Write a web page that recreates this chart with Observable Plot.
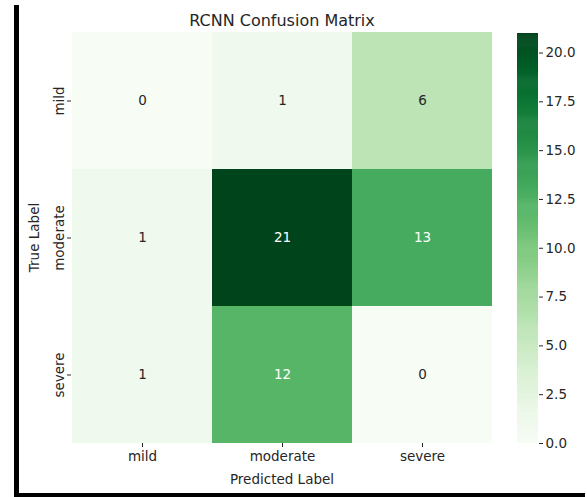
<!DOCTYPE html>
<html><head><meta charset="utf-8">
<script src="https://cdn.jsdelivr.net/npm/d3@7"></script>
<script src="https://cdn.jsdelivr.net/npm/@observablehq/plot@0.6"></script>
<style>
body{margin:0;background:#fff;}
#wrap{position:relative;width:587px;height:497px;overflow:hidden;font-family:"DejaVu Sans";background:#fff;}
#main,#cbar{position:absolute;top:0;}
#main{left:0} #cbar{left:517px}
.bl{position:absolute;left:14px;top:5px;width:5px;height:492px;background:#000}
.bb{position:absolute;left:14px;top:493px;width:571px;height:4px;background:#000}
</style></head><body>
<div id="wrap"><div id="main"></div><div id="cbar"></div><div class="bl"></div><div class="bb"></div></div>
<script>
const predicted = ["mild","moderate","severe"];
const trueLabels = ["mild","moderate","severe"];
const mildRow = [0,1,6];
const moderateRow = [1,21,13];
const severeRow = [1,12,0];
const colorbarTicks = [0,2.5,5,7.5,10,12.5,15,17.5,20];
const title = "RCNN Confusion Matrix";
const vmax = 21;

const rows = [mildRow, moderateRow, severeRow];
const cells = trueLabels.flatMap((t,i)=>predicted.map((p,j)=>({t,p,v:rows[i][j]})));
const colorOpts = {type:"linear", scheme:"greens", domain:[0,vmax]};
const txt = "#262626";

const main = Plot.plot({
  width:587,height:497,marginLeft:71,marginRight:95,marginTop:31,marginBottom:54,
  style:{fontFamily:"DejaVu Sans",fontSize:"13.5px",color:txt,background:"transparent",overflow:"visible"},
  x:{domain:predicted,padding:0},
  y:{domain:trueLabels,padding:0},
  color:colorOpts,
  marks:[
    Plot.cell(cells,{x:"p",y:"t",fill:"v",inset:0}),
    Plot.text(cells,{filter:d=>d.v<=10,x:"p",y:"t",text:d=>String(d.v),fill:txt,fontSize:13.5}),
    Plot.text(cells,{filter:d=>d.v>10,x:"p",y:"t",text:d=>String(d.v),fill:"white",fontSize:13.5}),
    Plot.axisX({tickSize:4,tickPadding:4,label:"Predicted Label",labelAnchor:"center",labelOffset:40}),
    Plot.axisY({tickSize:4,tickRotate:-90,tickPadding:4,label:"True Label",labelAnchor:"center",labelOffset:42}),
    Plot.text([title],{frameAnchor:"top",dy:-6,lineAnchor:"bottom",fontSize:16,text:d=>d,fill:txt})
  ]
});
document.getElementById("main").appendChild(main);

const step = 0.05;
const grad = d3.range(0, vmax, step);
const cbar = Plot.plot({
  width:70,height:497,marginLeft:0,marginRight:49,marginTop:33,marginBottom:54,
  style:{fontFamily:"DejaVu Sans",fontSize:"13.5px",color:txt,background:"transparent",overflow:"visible"},
  x:{domain:[0,1],axis:null},
  y:{domain:[0,vmax]},
  color:colorOpts,
  marks:[
    Plot.rect(grad,{x1:0,x2:1,y1:d=>d,y2:d=>Math.min(vmax,d+step*1.6),fill:d=>d+step/2,inset:0}),
    Plot.axisY(colorbarTicks,{anchor:"right",tickSize:4,tickPadding:3,tickFormat:d=>d.toFixed(1),label:null})
  ]
});
document.getElementById("cbar").appendChild(cbar);
</script>
</body></html>
